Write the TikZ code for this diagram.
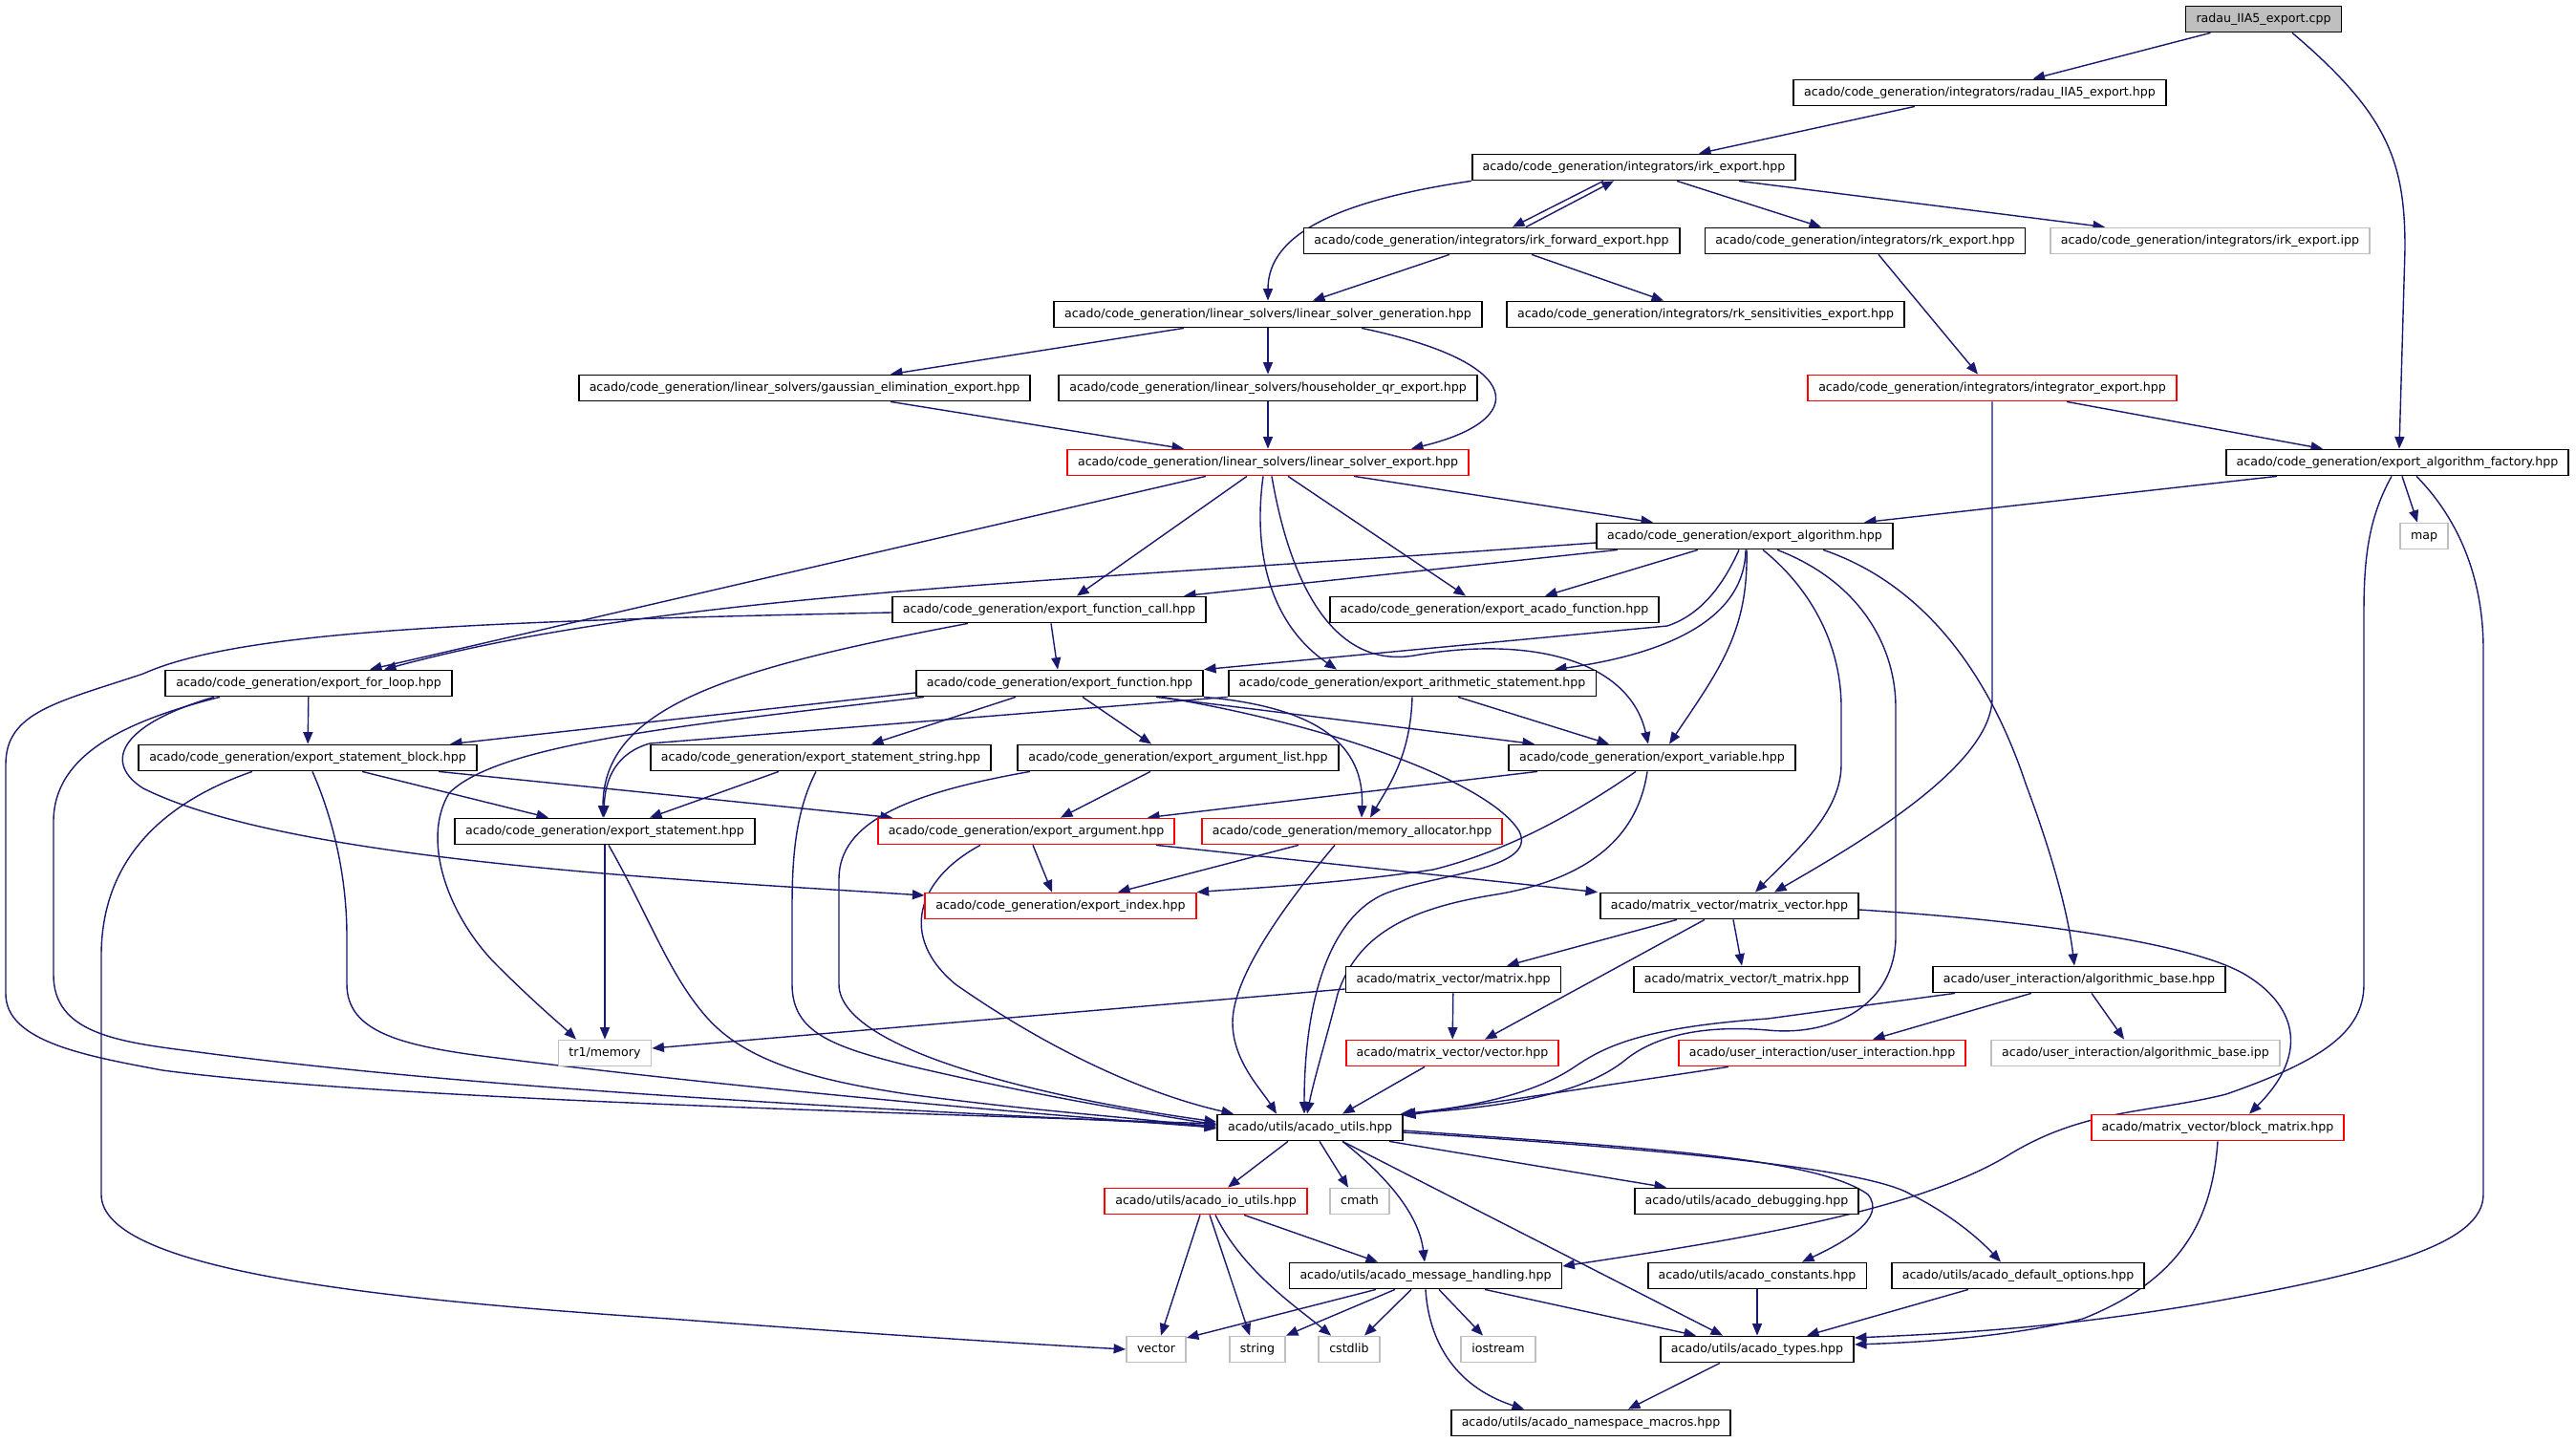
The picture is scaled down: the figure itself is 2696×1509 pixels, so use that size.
\documentclass[tikz,border=0pt]{standalone}
\usepackage{fontspec}
\setmainfont{DejaVu Sans}
\usetikzlibrary{arrows.meta}
\definecolor{edgec}{RGB}{25,25,112}
\definecolor{graybd}{RGB}{191,191,191}
\pgfdeclarelayer{bg}
\pgfsetlayers{bg,main}
\begin{document}
\begin{tikzpicture}[x=1pt,y=-1pt,
  box/.style={draw, line width=1.8pt, fill=white, rectangle, minimum height=27pt, inner xsep=11pt, inner ysep=0pt, text height=9.4pt, text depth=2.8pt, font=\fontsize{12.6pt}{15pt}\selectfont},
  nb/.style={box, draw=black},
  nr/.style={box, draw=red},
  ng/.style={box, draw=graybd},
  nroot/.style={box, draw=black, fill=graybd},
  e/.style={draw=edgec, line width=1.4pt, -{Triangle[length=12.5pt,width=10pt]}}]
\useasboundingbox (0,0) rectangle (2696,1509);
% nodes
\node[nroot] (root) at (2369,20) {radau\_IIA5\_export.cpp};
\node[nb] (rhpp) at (2072,97) {acado/code\_generation/integrators/radau\_IIA5\_export.hpp};
\node[nb] (irk) at (1710,175) {acado/code\_generation/integrators/irk\_export.hpp};
\node[nb] (irkf) at (1561,252) {acado/code\_generation/integrators/irk\_forward\_export.hpp};
\node[nb] (rk) at (1952,252) {acado/code\_generation/integrators/rk\_export.hpp};
\node[ng] (ipp) at (2313,252) {acado/code\_generation/integrators/irk\_export.ipp};
\node[nb] (lsg) at (1327,329) {acado/code\_generation/linear\_solvers/linear\_solver\_generation.hpp};
\node[nb] (rks) at (1785,329) {acado/code\_generation/integrators/rk\_sensitivities\_export.hpp};
\node[nb] (gau) at (842,406) {acado/code\_generation/linear\_solvers/gaussian\_elimination\_export.hpp};
\node[nb] (hh) at (1327,406) {acado/code\_generation/linear\_solvers/householder\_qr\_export.hpp};
\node[nr] (integ) at (2085,406) {acado/code\_generation/integrators/integrator\_export.hpp};
\node[nr] (lse) at (1327,484) {acado/code\_generation/linear\_solvers/linear\_solver\_export.hpp};
\node[nb] (fac) at (2509,484) {acado/code\_generation/export\_algorithm\_factory.hpp};
\node[nb] (alg) at (1826,561) {acado/code\_generation/export\_algorithm.hpp};
\node[ng] (map) at (2537,561) {map};
\node[nb] (fcall) at (1098,638) {acado/code\_generation/export\_function\_call.hpp};
\node[nb] (afn) at (1564,638) {acado/code\_generation/export\_acado\_function.hpp};
\node[nb] (floop) at (323,715) {acado/code\_generation/export\_for\_loop.hpp};
\node[nb] (func) at (1109,715) {acado/code\_generation/export\_function.hpp};
\node[nb] (arith) at (1478,715) {acado/code\_generation/export\_arithmetic\_statement.hpp};
\node[nb] (sblk) at (322,793) {acado/code\_generation/export\_statement\_block.hpp};
\node[nb] (sstr) at (859,793) {acado/code\_generation/export\_statement\_string.hpp};
\node[nb] (alist) at (1233,793) {acado/code\_generation/export\_argument\_list.hpp};
\node[nb] (var) at (1729,793) {acado/code\_generation/export\_variable.hpp};
\node[nb] (stmt) at (633,870) {acado/code\_generation/export\_statement.hpp};
\node[nr] (arg) at (1074,870) {acado/code\_generation/export\_argument.hpp};
\node[nr] (mem) at (1415,870) {acado/code\_generation/memory\_allocator.hpp};
\node[nr] (idx) at (1110,948) {acado/code\_generation/export\_index.hpp};
\node[nb] (mv) at (1810,948) {acado/matrix\_vector/matrix\_vector.hpp};
\node[nb] (mat) at (1521,1025) {acado/matrix\_vector/matrix.hpp};
\node[nb] (tmat) at (1828,1025) {acado/matrix\_vector/t\_matrix.hpp};
\node[nb] (abase) at (2176,1025) {acado/user\_interaction/algorithmic\_base.hpp};
\node[ng] (tr1) at (633,1102) {tr1/memory};
\node[nr] (vhpp) at (1520,1102) {acado/matrix\_vector/vector.hpp};
\node[nr] (uint) at (1907,1102) {acado/user\_interaction/user\_interaction.hpp};
\node[ng] (aipp) at (2235,1102) {acado/user\_interaction/algorithmic\_base.ipp};
\node[nb] (utils) at (1371,1180) {acado/utils/acado\_utils.hpp};
\node[nr] (blk) at (2321,1180) {acado/matrix\_vector/block\_matrix.hpp};
\node[nr] (io) at (1262,1257) {acado/utils/acado\_io\_utils.hpp};
\node[ng] (cmath) at (1423,1257) {cmath};
\node[nb] (dbg) at (1828,1257) {acado/utils/acado\_debugging.hpp};
\node[nb] (msg) at (1492,1335) {acado/utils/acado\_message\_handling.hpp};
\node[nb] (cst) at (1839,1335) {acado/utils/acado\_constants.hpp};
\node[nb] (dopt) at (2112,1335) {acado/utils/acado\_default\_options.hpp};
\node[ng] (vec) at (1210,1412) {vector};
\node[ng] (str) at (1316,1412) {string};
\node[ng] (cstd) at (1412,1412) {cstdlib};
\node[ng] (iost) at (1568,1412) {iostream};
\node[nb] (types) at (1839,1412) {acado/utils/acado\_types.hpp};
\node[nb] (ns) at (1665,1489) {acado/utils/acado\_namespace\_macros.hpp};
\begin{pgfonlayer}{bg}
\fill[white] (0,0) rectangle (2696,1509);
% root
\draw[e] (root) -- (rhpp);
\draw[e] ([xshift=30]root.south) .. controls (2500,120) and (2517,170) .. (2517,260) -- ([xshift=2]fac.north);
\draw[e] ([xshift=-68]rhpp.south) -- ([xshift=68]irk.north);
% irk
\draw[e] (irk.south west) .. controls (1400,210) and (1327,245) .. (lsg.north);
\draw[e] ([xshift=-32]irk.south) -- ([xshift=22]irkf.north);
\draw[e] ([xshift=36]irkf.north) -- ([xshift=-21]irk.south);
\draw[e] ([xshift=45]irk.south) -- ([xshift=-46]rk.north);
\draw[e] ([xshift=110]irk.south) -- ([xshift=-110]ipp.north);
\draw[e] ([xshift=-44]irkf.south) -- ([xshift=47]lsg.north);
\draw[e] ([xshift=42]irkf.south) -- ([xshift=-44]rks.north);
\draw[e] ([xshift=14]rk.south) -- ([xshift=-15]integ.north);
% linear solvers
\draw[e] ([xshift=-88]lsg.south) -- ([xshift=90]gau.north);
\draw[e] (lsg) -- (hh);
\draw[e] ([xshift=98]lsg.south) .. controls (1600,380) and (1600,440) .. ([xshift=150]lse.north);
\draw[e] ([xshift=90]gau.south) -- ([xshift=-88]lse.north);
\draw[e] (hh) -- (lse);
% integrator
\draw[e] ([xshift=78]integ.south) -- ([xshift=-78]fac.north);
\draw[e] (integ.south) -- (2085,730) .. controls (2085,800) and (1950,880) .. ([xshift=47]mv.north);
% factory
\draw[e] ([xshift=-126]fac.south) -- ([xshift=125]alg.north);
\draw[e] ([xshift=5]fac.south) -- ([xshift=-7]map.north);
\draw[e] ([xshift=-6]fac.south) .. controls (2480,540) and (2474,580) .. (2474,640) -- (2474,1030) .. controls (2474,1080) and (2430,1110) .. (2330,1145) .. controls (2250,1165) and (2180,1160) .. (2100,1210) .. controls (2000,1270) and (1800,1300) .. ([yshift=10]msg.east);
\draw[e] ([xshift=20]fac.south) .. controls (2570,540) and (2599,600) .. (2599,680) -- (2599,1250) .. controls (2599,1300) and (2500,1330) .. (2300,1365) .. controls (2150,1390) and (2050,1395) .. ([yshift=12]types.east);
% linear solver export
\draw[e] ([xshift=-65]lse.south) -- ([xshift=64]floop.north);
\draw[e] ([xshift=-22]lse.south) -- ([xshift=29]fcall.north);
\draw[e] ([xshift=-5]lse.south) .. controls (1312,570) and (1325,650) .. ([xshift=-79]arith.north);
\draw[e] ([xshift=4]lse.south) .. controls (1350,610) and (1395,700) .. (1480,686) .. controls (1600,665) and (1705,690) .. ([xshift=-4]var.north);
\draw[e] ([xshift=21]lse.south) -- ([xshift=-30]afn.north);
\draw[e] ([xshift=90]lse.south) -- ([xshift=-96]alg.north);
% export algorithm
\draw[e] ([xshift=-133]alg.south) -- ([xshift=141]fcall.north);
\draw[e] ([yshift=-7]alg.west) .. controls (1100,610) and (700,620) .. ([xshift=79]floop.north);
\draw[e] ([xshift=-49]alg.south) -- ([xshift=53]afn.north);
\draw[e] ([xshift=-6]alg.south) .. controls (1800,620) and (1775,645) .. (1745,655) -- (func.north east);
\draw[e] ([xshift=1]alg.south) .. controls (1826,650) and (1740,685) .. ([xshift=149]arith.north);
\draw[e] ([xshift=2]alg.south) .. controls (1830,660) and (1800,700) .. ([xshift=18]var.north);
\draw[e] ([xshift=19]alg.south) .. controls (1900,620) and (1927,680) .. (1927,740) -- (1927,800) .. controls (1927,850) and (1880,890) .. ([xshift=27]mv.north);
\draw[e] ([xshift=34]alg.south) .. controls (1950,610) and (1984,680) .. (1984,740) -- (1984,980) .. controls (1984,1050) and (1920,1085) .. (1850,1078) .. controls (1780,1072) and (1730,1085) .. (1700,1110) .. controls (1650,1150) and (1550,1160) .. ([xshift=-3]utils.north east);
\draw[e] ([xshift=82]alg.south) .. controls (2010,610) and (2080,700) .. (2120,820) .. controls (2150,900) and (2165,960) .. ([xshift=-5]abase.north);
% function call
\draw[e] ([xshift=2]fcall.south) -- ([xshift=-2]func.north);
\draw[e] ([xshift=-85]fcall.south) .. controls (760,700) and (631,740) .. ([xshift=-2]stmt.north);
\draw[e] ([yshift=-3]fcall.west) .. controls (500,650) and (250,660) .. (150,705) .. controls (60,735) and (6,745) .. (6,800) -- (6,1040) .. controls (6,1090) and (90,1105) .. (170,1120) .. controls (400,1150) and (900,1163) .. ([yshift=4]utils.west);
% for loop
\draw[e] (floop) -- (sblk);
\draw[e] ([xshift=-93]floop.south) .. controls (130,755) and (56,790) .. (56,860) -- (56,1020) .. controls (56,1080) and (120,1090) .. (200,1100) .. controls (500,1140) and (900,1160) .. ([yshift=2]utils.west);
\draw[e] ([xshift=-99]floop.south) .. controls (120,760) and (110,800) .. (150,825) .. controls (300,900) and (700,920) .. ([yshift=11]idx.west);
% statement block
\draw[e] ([xshift=57]sblk.south) -- ([xshift=-59]stmt.north);
\draw[e] ([xshift=137]sblk.south) -- ([xshift=-140]arg.north);
\draw[e] ([xshift=5]sblk.south) .. controls (350,860) and (363,920) .. (363,980) -- (363,1030) .. controls (363,1080) and (420,1095) .. (520,1107) .. controls (700,1130) and (1000,1160) .. (utils.west);
\draw[e] ([xshift=-58]sblk.south) .. controls (170,840) and (106,900) .. (106,1000) -- (106,1250) .. controls (106,1330) and (400,1360) .. (700,1380) .. controls (900,1395) and (1050,1405) .. (vec.west);
% statement
\draw[e] (stmt) -- (tr1);
\draw[e] ([xshift=4]stmt.south) .. controls (680,960) and (700,1020) .. (740,1065) .. controls (780,1110) and (850,1130) .. (950,1145) .. controls (1100,1165) and (1200,1170) .. ([yshift=-1]utils.west);
% statement string
\draw[e] ([xshift=-44]sstr.south) -- ([xshift=47]stmt.north);
\draw[e] ([xshift=-5]sstr.south) .. controls (832,850) and (829,900) .. (829,950) -- (829,1030) .. controls (829,1080) and (870,1095) .. (950,1115) .. controls (1100,1150) and (1200,1165) .. ([yshift=3]utils.west);
% export function
\draw[e] ([yshift=-10]func.west) -- ([xshift=149]sblk.north);
\draw[e] ([xshift=-142]func.south) .. controls (700,760) and (520,780) .. (470,830) .. controls (440,880) and (470,960) .. (520,1010) .. controls (560,1050) and (590,1075) .. ([xshift=-30]tr1.north);
\draw[e] ([xshift=-46]func.south) -- ([xshift=53]sstr.north);
\draw[e] ([xshift=24]func.south) -- ([xshift=-28]alist.north);
\draw[e] ([xshift=101]func.south) -- ([xshift=-123]var.north);
\draw[e] (func.south east) .. controls (1380,740) and (1428,780) .. ([xshift=10]mem.north);
\draw[e] ([xshift=107]func.south) .. controls (1400,760) and (1560,820) .. (1590,870) .. controls (1610,910) and (1500,915) .. (1450,935) .. controls (1390,960) and (1365,1050) .. ([xshift=-6]utils.north);
% arithmetic statement
\draw[e] ([xshift=48]arith.south) -- ([xshift=-45]var.north);
\draw[e] (arith.south) .. controls (1476,790) and (1455,820) .. ([xshift=19]mem.north);
\draw[e] (arith.south west) -- (680,778) .. controls (645,788) and (633,815) .. ([xshift=-1]stmt.north);
% argument list
\draw[e] ([xshift=-29]alist.south) -- ([xshift=36]arg.north);
\draw[e] ([xshift=-155]alist.south) .. controls (950,830) and (878,860) .. (878,920) -- (878,1030) .. controls (878,1100) and (1100,1150) .. ([yshift=6]utils.west);
% variable
\draw[e] ([xshift=-120]var.south) -- ([xshift=127]arg.north);
\draw[e] ([xshift=-17]var.south) .. controls (1650,850) and (1580,890) .. (1500,910) .. controls (1400,925) and (1300,930) .. (idx.north east);
\draw[e] ([xshift=-5]var.south) .. controls (1715,870) and (1670,920) .. (1560,937) .. controls (1470,952) and (1420,980) .. (1400,1040) .. controls (1390,1080) and (1375,1130) .. ([xshift=-3]utils.north);
% argument
\draw[e] ([xshift=7]arg.south) -- ([xshift=-9]idx.north);
\draw[e] ([xshift=136]arg.south) -- ([xshift=-138]mv.north);
\draw[e] ([xshift=-48]arg.south) .. controls (960,920) and (940,980) .. (1000,1030) .. controls (1100,1100) and (1200,1145) .. ([xshift=-80]utils.north);
% memory allocator
\draw[e] ([xshift=-56]mem.south) -- ([xshift=60]idx.north);
\draw[e] ([xshift=-18]mem.south) .. controls (1350,940) and (1290,1020) .. (1290,1070) .. controls (1290,1110) and (1320,1140) .. ([xshift=-35]utils.north);
% matrix vector
\draw[e] ([xshift=-55]mv.south) -- ([xshift=56]mat.north);
\draw[e] ([xshift=-26]mv.south) -- ([xshift=34]vhpp.north);
\draw[e] ([xshift=4]mv.south) -- ([xshift=-5]tmat.north);
\draw[e] ([yshift=-4]mv.east) .. controls (2150,965) and (2300,990) .. (2350,1020) .. controls (2400,1050) and (2420,1100) .. ([xshift=33]blk.north);
\draw[e] ([yshift=-10]mat.west) -- ([yshift=5]tr1.east);
\draw[e] (mat) -- (vhpp);
\draw[e] ([xshift=-29]vhpp.south) -- ([xshift=34]utils.north);
% algorithmic base
\draw[e] ([xshift=-50]abase.south) -- ([xshift=53]uint.north);
\draw[e] ([xshift=13]abase.south) -- ([xshift=-12]aipp.north);
\draw[e] ([xshift=-130]abase.south) -- (1850,1066) .. controls (1720,1075) and (1680,1095) .. (1650,1115) .. controls (1600,1150) and (1520,1160) .. (utils.north east);
\draw[e] ([xshift=-98]uint.south) -- ([yshift=-2]utils.north east);
% utils
\draw[e] ([xshift=-23]utils.south) -- ([xshift=23]io.north);
\draw[e] ([xshift=10]utils.south) -- ([xshift=-12]cmath.north);
\draw[e] ([xshift=34]utils.south) .. controls (1450,1230) and (1485,1270) .. ([xshift=-1]msg.north);
\draw[e] ([xshift=34]utils.south) -- ([xshift=-36]types.north);
\draw[e] ([xshift=83]utils.south) -- ([xshift=-84]dbg.north);
\draw[e] ([yshift=-3]utils.east) .. controls (1700,1200) and (1900,1210) .. (1955,1250) .. controls (1975,1275) and (1930,1300) .. ([xshift=47]cst.north);
\draw[e] ([yshift=-5]utils.east) .. controls (1700,1200) and (1950,1220) .. (2000,1250) .. controls (2040,1270) and (2070,1295) .. ([xshift=-18]dopt.north);
% io utils
\draw[e] ([xshift=-6]io.south) -- ([xshift=5]vec.north);
\draw[e] ([xshift=4]io.south) -- ([xshift=-8]str.north);
\draw[e] ([xshift=10]io.south) .. controls (1300,1330) and (1360,1370) .. ([xshift=-19]cstd.north);
\draw[e] ([xshift=40]io.south) -- ([xshift=-50]msg.north);
% message handling
\draw[e] ([xshift=-52]msg.south) -- ([yshift=12]vec.east);
\draw[e] ([xshift=-32]msg.south) -- (str.north east);
\draw[e] ([xshift=-15]msg.south) -- ([xshift=16]cstd.north);
\draw[e] ([xshift=14]msg.south) -- ([xshift=-16]iost.north);
\draw[e] (msg.south) .. controls (1495,1400) and (1520,1450) .. ([xshift=-70]ns.north);
\draw[e] ([xshift=62]msg.south) -- ([xshift=-64]types.north);
% constants, options, types, block matrix
\draw[e] (cst) -- (types);
\draw[e] ([xshift=-52]dopt.south) -- ([xshift=52]types.north);
\draw[e] ([xshift=-39]types.south) -- ([xshift=39]ns.north);
\draw[e] (blk.south) .. controls (2315,1280) and (2280,1340) .. (2180,1380) .. controls (2100,1400) and (2000,1405) .. ([yshift=5]types.east);
\end{pgfonlayer}
\end{tikzpicture}
\end{document}
